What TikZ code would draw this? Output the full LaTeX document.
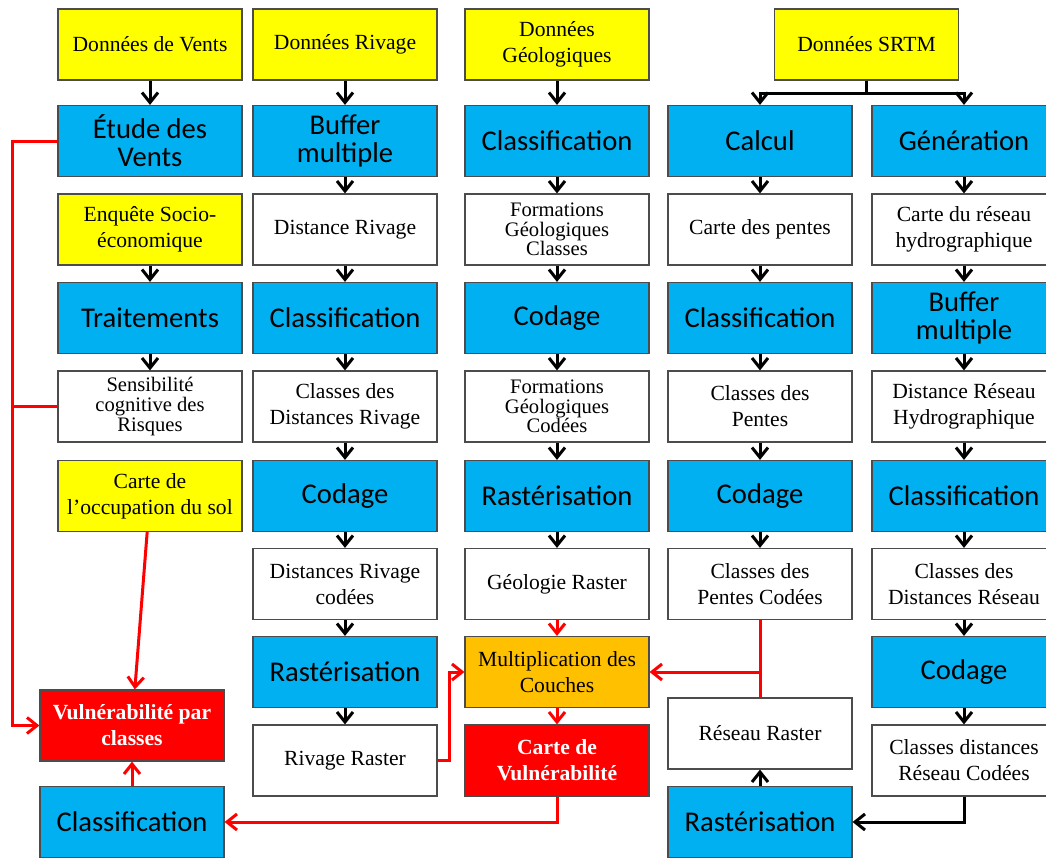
\documentclass[tikz,border=0pt]{standalone}
\usepackage{fontspec}
\setmainfont{Liberation Serif}
\newfontfamily\calibri{Carlito}
\usetikzlibrary{arrows.meta}

\definecolor{jaune}{RGB}{255,255,0}
\definecolor{bleu}{RGB}{0,176,240}
\definecolor{orangec}{RGB}{255,192,0}
\definecolor{rouge}{RGB}{255,0,0}

\tikzset{
	boite/.style={draw=black!70, line width=0.6pt, minimum width=92pt,
		minimum height=35.5pt, inner sep=1pt, align=center,
		font=\fontsize{10.8}{13}\selectfont},
	donnee/.style={boite, fill=jaune},
	traitement/.style={boite, fill=bleu, font=\calibri\fontsize{14.3}{14}\selectfont},
	resultat/.style={boite, fill=white},
	serre/.style={font=\fontsize{10.3}{9.8}\selectfont},
	final/.style={boite, fill=rouge, text=white, font=\bfseries\fontsize{10.8}{13}\selectfont},
	couche/.style={boite, fill=orangec},
	fleche/.style={line width=1.5pt, -{Straight Barb[length=5pt,width=8pt]}},
	flecherouge/.style={fleche, draw=rouge},
	lignerouge/.style={line width=1.5pt, draw=rouge}
}

\begin{document}
\begin{tikzpicture}[x=0.5pt, y=-0.5pt]
	\useasboundingbox (0,0) rectangle (1046,858);

	% vents et enquete
	\node [donnee] (vents) at (150,44.5) {Données de Vents};
	\node [traitement] (etude) at (150,141) {Étude des\\Vents};
	\node [donnee] (enquete) at (150,229.5) {Enquête Socio-\\économique};
	\node [traitement] (trait) at (150,318) {Traitements};
	\node [resultat, serre] (sensib) at (150,406.5) {Sensibilité\\cognitive des\\Risques};
	\node [donnee] (occup) at (150,496) {Carte de\\l’occupation du sol};
	\node [final] (vuln) at (132,725.5) {Vulnérabilité par\\classes};
	\node [traitement] (classV) at (132,822) {Classification};

	% rivage
	\node [donnee] (rivage) at (345,44.5) {Données Rivage};
	\node [traitement] (buf1) at (345,141) {Buffer\\multiple};
	\node [resultat] (distR) at (345,229.5) {Distance Rivage};
	\node [traitement] (class2) at (345,318) {Classification};
	\node [resultat] (clDistR) at (345,406.5) {Classes des\\Distances Rivage};
	\node [traitement] (cod2) at (345,496) {Codage};
	\node [resultat] (distRc) at (345,584) {Distances Rivage\\codées};
	\node [traitement] (rast2) at (345,672) {Rastérisation};
	\node [resultat] (rivR) at (345,760.5) {Rivage Raster};

	% geologie
	\node [donnee] (geo) at (557,44.5) {Données\\Géologiques};
	\node [traitement] (class3) at (557,141) {Classification};
	\node [resultat, serre] (formCl) at (557,229.5) {Formations\\Géologiques\\Classes};
	\node [traitement] (cod3) at (557,318) {Codage};
	\node [resultat, serre] (formCod) at (557,406.5) {Formations\\Géologiques\\Codées};
	\node [traitement] (rast3) at (557,496) {Rastérisation};
	\node [resultat] (geoR) at (557,584) {Géologie Raster};
	\node [couche] (multi) at (557,672) {Multiplication des\\Couches};
	\node [final] (carteV) at (557,760.5) {Carte de\\Vulnérabilité};

	% srtm : pentes
	\node [donnee] (srtm) at (866.5,44.5) {Données SRTM};
	\node [traitement] (calcul) at (760,141) {Calcul};
	\node [resultat] (pentes) at (760,229.5) {Carte des pentes};
	\node [traitement] (class4) at (760,318) {Classification};
	\node [resultat] (clPentes) at (760,406.5) {Classes des\\Pentes};
	\node [traitement] (cod4) at (760,496) {Codage};
	\node [resultat] (pentesC) at (760,584) {Classes des\\Pentes Codées};
	\node [resultat] (resR) at (760,733.5) {Réseau Raster};
	\node [traitement] (rast4) at (760,822) {Rastérisation};

	% srtm : reseau
	\node [traitement] (gen) at (964,141) {Génération};
	\node [resultat] (carteRes) at (964,229.5) {Carte du réseau\\hydrographique};
	\node [traitement] (buf5) at (964,318) {Buffer\\multiple};
	\node [resultat] (distRes) at (964,406.5) {Distance Réseau\\Hydrographique};
	\node [traitement] (class5) at (964,496) {Classification};
	\node [resultat] (clDistRes) at (964,584) {Classes des\\Distances Réseau};
	\node [traitement] (cod5) at (964,672) {Codage};
	\node [resultat] (resC) at (964,760.5) {Classes distances\\Réseau Codées};

	\foreach \a/\b in {vents/etude, enquete/trait, trait/sensib,
			rivage/buf1, buf1/distR, distR/class2, class2/clDistR, clDistR/cod2,
			cod2/distRc, distRc/rast2, rast2/rivR,
			geo/class3, class3/formCl, formCl/cod3, cod3/formCod, formCod/rast3,
			rast3/geoR,
			calcul/pentes, pentes/class4, class4/clPentes, clPentes/cod4, cod4/pentesC,
			gen/carteRes, carteRes/buf5, buf5/distRes, distRes/class5,
			class5/clDistRes, clDistRes/cod5, cod5/resC, rast4/resR}
		\draw
			[fleche] (\a) -- (\b);

	\draw
		[fleche] (srtm.south) -- ++(0,13) -| (calcul.north);
	\draw
		[fleche] (srtm.south) -- ++(0,13) -| (gen.north);
	\draw
		[fleche] (resC.south) |- (rast4.east);

	\foreach \a/\b in {geoR/multi, multi/carteV, occup/vuln, classV/vuln}
		\draw
			[flecherouge] (\a) -- (\b);

	\draw
		[lignerouge] (pentesC.south) -- (resR.north);
	\draw
		[flecherouge] (pentesC.south |- multi.east) -- (multi.east);
	\draw
		[flecherouge] (rivR.east) -- ++(12,0) |- (multi.west);
	\draw
		[flecherouge] (carteV.south) |- (classV.east);

	\coordinate (bus) at (12,141);
	\draw
		[flecherouge] (etude.west) -- (bus) |- (vuln.west);
	\draw
		[lignerouge] (sensib.west) -- (bus |- sensib.west);
\end{tikzpicture}
\end{document}
